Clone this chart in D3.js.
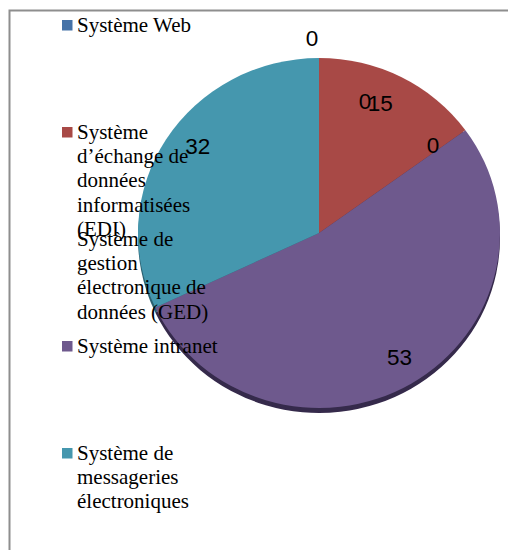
<!DOCTYPE html>
<html>
<head>
<meta charset="utf-8">
<script src="https://cdn.jsdelivr.net/npm/d3@7"></script>
<style>
  html, body { margin: 0; padding: 0; background: #fff; }
  svg { display: block; }
</style>
</head>
<body>
<svg id="chart" width="508" height="550"></svg>
<script>
// Share of information systems in use (%)
const categories = [
  "Système Web",
  "Système d’échange de données informatisées (EDI)",
  "Système de gestion électronique de données (GED)",
  "Système intranet",
  "Système de messageries électroniques",
  "Autres"
];
const values = [0, 15, 0, 53, 32, 0];
const colors = ["#4572A7", "#A84946", "none", "#6E598D", "#4597AE", "#DB843D"];
const sideColors = ["#2c4870", "#6b2c2a", "none", "#36294b", "#2a6070", "#8a5020"];

const data = categories.map((c, i) => ({ name: c, value: values[i], color: colors[i], side: sideColors[i] }));

const svg = d3.select("#chart");
const W = 508, H = 550;

// frame
svg.append("rect")
  .attr("x", 9.5).attr("y", 10.5)
  .attr("width", W + 10).attr("height", H + 10)
  .attr("fill", "none").attr("stroke", "#8e8e8e").attr("stroke-width", 2);

// pie geometry (slightly tilted, so drawn as an ellipse)
const cx = 319, cy = 233, rx = 181, ry = 175, depth = 5;
const pie = d3.pie().sort(null).value(d => d.value).startAngle(0).endAngle(2 * Math.PI);
const arcs = pie(data);
const arc = d3.arc().innerRadius(0).outerRadius(rx);

const defs = svg.append("defs");
defs.append("filter").attr("id", "soft")
  .append("feGaussianBlur").attr("stdDeviation", 0.7);

// side of the disc
const sideG = svg.append("g")
  .attr("transform", `translate(${cx},${cy + depth}) scale(1,${ry / rx})`)
  .attr("filter", "url(#soft)");
sideG.selectAll("path")
  .data(arcs.filter(a => a.value > 0))
  .join("path")
  .attr("d", arc)
  .attr("fill", d => d.data.side);

// top face
const faceG = svg.append("g")
  .attr("transform", `translate(${cx},${cy}) scale(1,${ry / rx})`);
faceG.selectAll("path")
  .data(arcs.filter(a => a.value > 0))
  .join("path")
  .attr("d", arc)
  .attr("fill", d => d.data.color);

// legend (entries that would fall below the frame are left out)
const legendX = 62, textX = 77, firstBaseline = 32, step = 107, lineH = 24.2, wrapW = 150;
const legend = svg.append("g")
  .attr("font-family", "'Liberation Serif', 'Times New Roman', serif")
  .attr("font-size", 21)
  .attr("fill", "#000");

data.forEach((d, i) => {
  const base = firstBaseline + i * step;
  if (base + 4 > H) return;
  if (d.color !== "none") {
    legend.append("rect")
      .attr("x", legendX).attr("y", base - 12)
      .attr("width", 10.5).attr("height", 10.5)
      .attr("fill", d.color);
  }
  const t = legend.append("text").attr("x", textX).attr("y", base);
  const words = d.name.split(" ");
  let line = [], lineNo = 0;
  let tspan = t.append("tspan").attr("x", textX).attr("y", base);
  words.forEach(w => {
    line.push(w);
    tspan.text(line.join(" "));
    if (tspan.node().getComputedTextLength() > wrapW && line.length > 1) {
      line.pop();
      tspan.text(line.join(" "));
      line = [w];
      lineNo++;
      tspan = t.append("tspan").attr("x", textX).attr("y", base + lineNo * lineH).text(w);
    }
  });
});

// data labels
const labelArc = d3.arc().innerRadius(rx * 0.82).outerRadius(rx * 0.82);
const labelNudge = [[46, 11.5], [-6, -2], [-6, -4], [5, 0], [4, -10], [-7, -52]];
svg.append("g")
  .attr("font-family", "'Liberation Sans', Arial, sans-serif")
  .attr("font-size", 22.5)
  .attr("text-anchor", "middle")
  .selectAll("text")
  .data(arcs)
  .join("text")
  .attr("x", (d, i) => cx + labelArc.centroid(d)[0] + labelNudge[i][0])
  .attr("y", (d, i) => cy + labelArc.centroid(d)[1] * ry / rx + labelNudge[i][1])
  .attr("dy", "0.36em")
  .attr("fill", "#000")
  .text(d => d.data.value);
</script>
</body>
</html>
